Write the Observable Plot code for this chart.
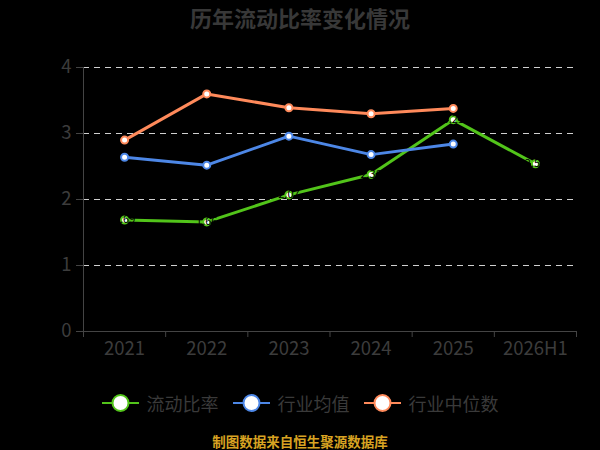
<!DOCTYPE html>
<html><head><meta charset="utf-8">
<script src="https://cdn.jsdelivr.net/npm/d3@7"></script>
<script src="https://cdn.jsdelivr.net/npm/@observablehq/plot@0.6"></script>
<style>
html,body{margin:0;padding:0;background:#000;}
#wrap{position:relative;width:600px;height:450px;background:#000;font-family:"Noto Sans CJK SC","Noto Sans",sans-serif;overflow:hidden;}
#title{position:absolute;top:0;left:0;width:600px;height:35px;line-height:35px;text-align:center;font-size:22px;font-weight:bold;color:#383838;}
#chart{position:absolute;top:35px;left:0;}
#legend{position:absolute;top:391px;left:0;width:600px;height:24px;display:flex;justify-content:center;align-items:center;font-size:18px;color:#3a3a3a;}
.item{display:flex;align-items:center;margin:0 7px;}
.item svg{margin-right:8px;}
#caption{position:absolute;top:433px;left:0;width:600px;text-align:center;font-size:13.5px;font-weight:bold;color:#d8a322;line-height:16px;}
</style></head>
<body><div id="wrap"><div id="title">历年流动比率变化情况</div><div id="chart"></div><div id="legend"></div><div id="caption">制图数据来自恒生聚源数据库</div></div>
<script>
const years = ["2021","2022","2023","2024","2025","2026H1"];
const currentRatio = [1.69, 1.66, 2.07, 2.38, 3.21, 2.54];
const industryMean = [2.64, 2.52, 2.96, 2.68, 2.84, null];
const industryMedian = [2.90, 3.60, 3.39, 3.30, 3.38, null];
const seriesNames = ["流动比率", "行业均值", "行业中位数"];
const seriesColors = ["#52c41a", "#4d87e6", "#ff8a5b"];
const yTicks = [0, 1, 2, 3, 4];

const seriesValues = [currentRatio, industryMean, industryMedian];
const rows = [];
seriesValues.forEach((vals, s) => vals.forEach((v, i) => { if (v != null) rows.push({i, v, s: seriesNames[s]}); }));

const marks = [
  Plot.ruleY(yTicks.filter(d => d > 0), {stroke: "#d0d0d0", strokeWidth: 1.2, strokeDasharray: "6,5"}),
  Plot.ruleX([-0.5], {stroke: "#444"}),
  Plot.ruleY([0], {stroke: "#444"}),
  Plot.axisY({ticks: yTicks, tickSize: 7, stroke: "#444", tickPadding: 5, fontSize: 18.5, fill: "#3c3c3c", tickFormat: d => String(d), label: null}),
  Plot.axisX({ticks: d3.range(-0.5, 6, 1), tickSize: 6, stroke: "#444", tickFormat: () => "", label: null}),
  Plot.axisX({ticks: d3.range(0, 6), tickSize: 0, tickPadding: 10, tickFormat: i => years[i], fontSize: 18.5, fill: "#3c3c3c", label: null}),
];
seriesNames.forEach((name, s) => {
  const d = rows.filter(r => r.s === name);
  marks.push(Plot.line(d, {x: "i", y: "v", stroke: seriesColors[s], strokeWidth: 3}));
  marks.push(Plot.dot(d, {x: "i", y: "v", r: 3.5, fill: "#fff", stroke: seriesColors[s], strokeWidth: 2}));
});
marks.push(Plot.text(rows.filter(r => r.s === seriesNames[0]), {x: "i", y: "v", text: r => r.v.toFixed(2), fill: "#000", fontSize: 11}));

const chart = Plot.plot({
  width: 600, height: 335,
  marginTop: 32, marginLeft: 83, marginRight: 24, marginBottom: 39,
  style: {background: "#000", fontFamily: "'Noto Sans CJK SC','Noto Sans',sans-serif"},
  x: {type: "linear", domain: [-0.5, 5.5], axis: null},
  y: {domain: [0, 4], axis: null},
  marks
});
document.getElementById("chart").appendChild(chart);

const legend = document.getElementById("legend");
seriesNames.forEach((name, s) => {
  const item = document.createElement("div");
  item.className = "item";
  item.innerHTML = `<svg width="37" height="20"><line x1="0" y1="10" x2="37" y2="10" stroke="${seriesColors[s]}" stroke-width="2"/><circle cx="18.5" cy="10" r="8" fill="#fff" stroke="${seriesColors[s]}" stroke-width="2"/></svg><span>${name}</span>`;
  legend.appendChild(item);
});
</script></body></html>
